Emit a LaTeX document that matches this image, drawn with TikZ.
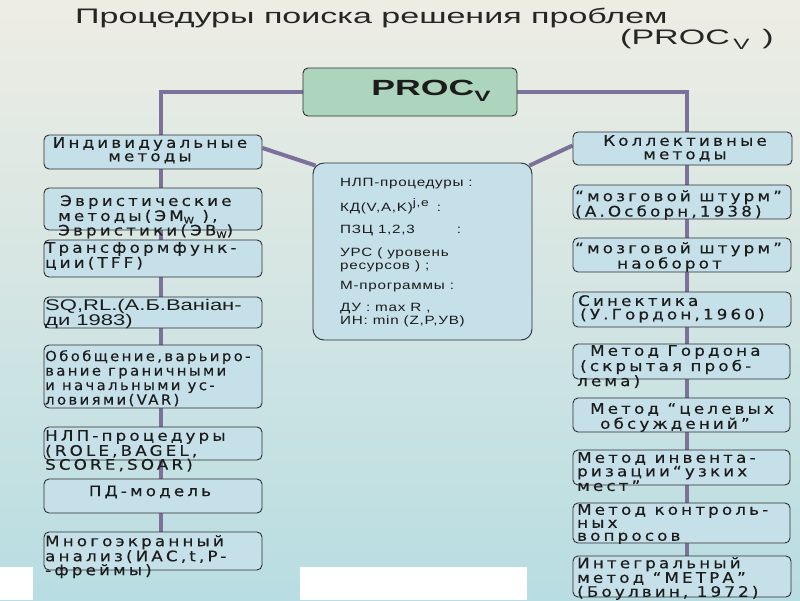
\documentclass[tikz,border=0pt]{standalone}
\usepackage{fontspec}
\setmainfont{DejaVu Sans}
\usetikzlibrary{calc}
\newfontfamily\ttlf[FakeStretch=1.62]{Liberation Sans}
\newfontfamily\bxf[FakeStretch=1.15,LetterSpace=22,FakeBold=0.4]{DejaVu Sans}
\newfontfamily\bxg[FakeStretch=1.06,LetterSpace=17,FakeBold=0.4]{DejaVu Sans}
\newfontfamily\arf[FakeStretch=1.42]{Liberation Sans}
\newfontfamily\cnf[FakeStretch=1.27,LetterSpace=6]{Liberation Sans}
\definecolor{bgtop}{HTML}{EEEDE4}
\definecolor{bgmid}{HTML}{D6E6E2}
\definecolor{bgbot}{HTML}{B8DDE2}
\definecolor{boxfill}{HTML}{C5E0E8}
\definecolor{procfill}{HTML}{ADD5BE}
\definecolor{edge}{HTML}{2E2E2E}
\definecolor{conncol}{HTML}{7B7199}
\definecolor{txtc}{HTML}{1C1C1C}
\pgfdeclarelayer{back}
\pgfdeclarelayer{links}
\pgfsetlayers{back,links,main}
\tikzset{
  mbox/.style={draw=edge, line width=0.9pt, fill=boxfill, rounded corners=5pt, inner sep=0pt},
  conn/.style={draw=conncol, line width=4pt},
  txt/.style={inner sep=0pt, anchor=north west, align=left, text=txtc},
  bt/.style={txt, font=\bxf\fontsize{14.5}{13.5}\selectfont},
}
\newcommand{\sbw}[1]{\raisebox{-2.5pt}{\fontsize{9}{9}\selectfont #1}}
\begin{document}
\begin{tikzpicture}[x=1pt,y=-1pt]
\useasboundingbox (0,0) rectangle (800,600);
\begin{pgfonlayer}{back}
\shade[top color=bgtop, middle color=bgmid, bottom color=bgbot] (0,0) rectangle (800,600);
\fill[white] (0,567) rectangle (33,600);
\fill[white] (300,567) rectangle (527,600);
\end{pgfonlayer}

% title
\node[txt, anchor=base west, font=\ttlf\fontsize{21}{21}\selectfont, text=black!85] (T1) at (75,23) {Процедуры поиска решения проблем};
\node[txt, anchor=base west, font=\ttlf\fontsize{21}{21}\selectfont, text=black!85] (T2) at (620,44) {(PROC\,\raisebox{-5pt}{\fontsize{15}{15}\selectfont V}\, )};

% box shapes
\node[mbox, fill=procfill, minimum width=214, minimum height=48] (P) at (410,92) {};
\node[mbox, minimum width=218, minimum height=34] (L1) at (153,152) {};
\node[mbox, minimum width=218, minimum height=42] (L2) at (153,209) {};
\node[mbox, minimum width=218, minimum height=37] (L3) at (153,258.5) {};
\node[mbox, minimum width=218, minimum height=31] (L4) at (153,312.5) {};
\node[mbox, minimum width=218, minimum height=63] (L5) at (153,376.5) {};
\node[mbox, minimum width=218, minimum height=33] (L6) at (153,443.5) {};
\node[mbox, minimum width=218, minimum height=34] (L7) at (153,496) {};
\node[mbox, minimum width=218, minimum height=38] (L8) at (153,551) {};

\node[mbox, minimum width=219, minimum height=33] (R1) at (682.5,148.5) {};
\node[mbox, minimum width=218, minimum height=34] (R2) at (682,202) {};
\node[mbox, minimum width=218, minimum height=34] (R3) at (682,255) {};
\node[mbox, minimum width=218, minimum height=35] (R4) at (682,309.5) {};
\node[mbox, minimum width=217, minimum height=35] (R5) at (681.5,361.5) {};
\node[mbox, minimum width=217, minimum height=34] (R6) at (681.5,415) {};
\node[mbox, minimum width=217, minimum height=35] (R7) at (681.5,467.5) {};
\node[mbox, minimum width=217, minimum height=40] (R8) at (681.5,523) {};
\node[mbox, minimum width=218, minimum height=41] (R9) at (682,576.5) {};

\node[mbox, rounded corners=11pt, minimum width=219, minimum height=177] (C) at (422.5,251.5) {};

% connectors
\coordinate (lx) at (161,0);
\coordinate (rx) at (687,0);
\begin{pgfonlayer}{links}
\draw[conn] (P.west) -| (L1.north -| lx);
\draw[conn] (P.east) -| (R1.north -| rx);
\foreach \a/\b in {L1/L2,L2/L3,L3/L4,L4/L5,L5/L6,L6/L7,L7/L8}
  \draw[conn] (\a.south -| lx) -- (\b.north -| lx);
\foreach \a/\b in {R1/R2,R2/R3,R3/R4,R4/R5,R5/R6,R6/R7,R7/R8,R8/R9}
  \draw[conn] (\a.south -| rx) -- (\b.north -| rx);
\draw[conn] ($(L1.east)+(0,-4)$) -- ($(C.north west)+(3,3)$);
\draw[conn] ($(R1.west)+(0,-3)$) -- ($(C.north east)+(-3,3)$);
\end{pgfonlayer}

% texts
\node[txt, anchor=center, font=\ttlf\bfseries\fontsize{22}{22}\selectfont] (Pt) at (431,91) {PROC\raisebox{-6pt}{\fontsize{15}{15}\selectfont V}};

\node[bt, anchor=north, align=center] (L1t) at (150,137) {Индивидуальные\\методы};
\node[bt, font=\bxf\fontsize{14.5}{12.5}\selectfont] (L2t) at (58,195) {\hspace*{2pt}Эвристические\\методы(ЭМ\sbw{W} ),\\Эвристики(ЭВ\sbw{W})};
\node[bt] (L3t) at (45,242) {Трансформфунк-\\ции(TFF)};
\node[txt, font=\arf\fontsize{15.5}{14}\selectfont] (L4t) at (45,299) {SQ,RL.(А.Б.Ваніан-\\ди 1983)};
\node[txt, font=\bxg\fontsize{14}{14.5}\selectfont] (L5t) at (45,350) {Обобщение,варьиро-\\вание граничными\\и начальными ус-\\ловиями(VAR)};
\node[bt, font=\bxf\fontsize{14.5}{11.5}\selectfont] (L6t) at (45,430) {НЛП-процедуры\\(ROLE,BAGEL,\\SCORE,SOAR)};
\node[bt, anchor=center] (L7t) at (150,492) {ПД-модель};
\node[bt, font=\bxf\fontsize{14.5}{12.5}\selectfont] (L8t) at (45,535) {Многоэкранный\\анализ(ИАС,t,P-\\-фреймы)};

\node[bt, anchor=north, align=center] (R1t) at (685,135) {Коллективные\\методы};
\node[bt] (R2t) at (575,190) {“мозговой штурм”\\(А.Осборн,1938)};
\node[bt] (R3t) at (575,242) {“мозговой штурм”\\\hspace*{42pt}наоборот};
\node[bt] (R4t) at (578,295) {Синектика\\\hspace*{2pt}(У.Гордон,1960)};
\node[bt, font=\bxf\fontsize{14.5}{12}\selectfont] (R5t) at (577,345) {\hspace*{13pt}Метод Гордона\\\hspace*{3pt}(скрытая проб-\\лема)};
\node[bt, font=\bxf\fontsize{14.5}{15}\selectfont] (R6t) at (590,403) {Метод “целевых\\\hspace*{10pt}обсуждений”};
\node[bt, font=\bxf\fontsize{14.5}{12.3}\selectfont] (R7t) at (577,452) {Метод инвента-\\ризации“узких\\мест”};
\node[bt, font=\bxf\fontsize{14.5}{13}\selectfont] (R8t) at (577,504) {Метод контроль-\\ных\\вопросов};
\node[bt, font=\bxf\fontsize{14.5}{12.5}\selectfont] (R9t) at (577,557) {Интегральный\\метод “МЕТРА”\\(Боулвин, 1972)};

\node[txt, font=\cnf\fontsize{12}{13}\selectfont] (Ct) at (340,178) {НЛП-процедуры :\\[9pt]
КД(V,A,K)\raisebox{5pt}{\fontsize{11}{11}\selectfont j,e}\hspace{8pt}:\\[9pt]
ПЗЦ 1,2,3\hspace{42pt}:\\[10pt]
УРС ( уровень\\
ресурсов ) ;\\[7pt]
М-программы :\\[9pt]
ДУ : max R ,\\
ИН: min (Z,P,УВ)};
\end{tikzpicture}
\end{document}
